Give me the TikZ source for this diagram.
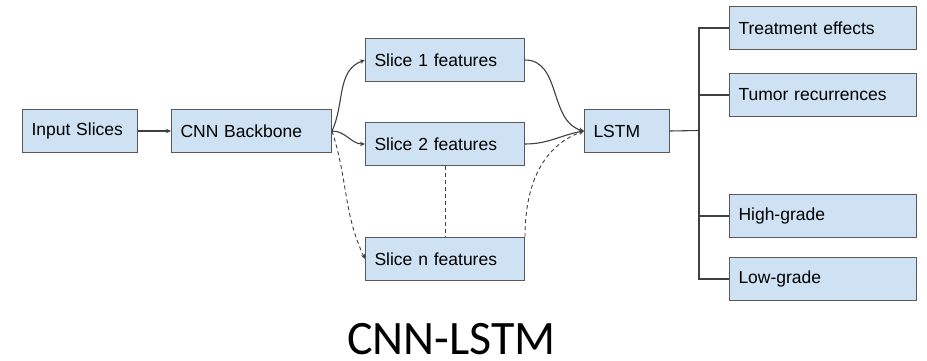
\documentclass[tikz,border=0pt]{standalone}
\usepackage{fontspec}
\setmainfont{Liberation Sans}
\newfontfamily\carlito{Carlito}
\usetikzlibrary{arrows.meta}
\definecolor{boxfill}{HTML}{CFE2F3}
\definecolor{boxline}{HTML}{595959}
\definecolor{conn}{HTML}{404040}
\tikzset{
  blockbox/.style={draw=boxline, line width=1pt, fill=boxfill, rectangle, anchor=north west,
    minimum height=43pt, inner xsep=9pt, inner ysep=0pt, text width=#1-18pt, align=left,
    font=\fontsize{17.5}{20}\selectfont},
  link/.style={draw=conn, line width=1.1pt},
  arr/.style={link, -{Stealth[length=5pt,width=4.5pt]}},
  dashlink/.style={link, line width=0.9pt, dashed, dash pattern=on 4pt off 3pt},
  dasharr/.style={arr, line width=0.9pt, dashed, dash pattern=on 4pt off 3pt}
}
\begin{document}
\begin{tikzpicture}[x=1pt,y=-1pt]
\useasboundingbox[fill=white] (0,0) rectangle (927,361);
\node[blockbox=115pt] (inp) at (22,109) {Input Slices};
\node[blockbox=160pt] (cnn) at (171,109) {CNN Backbone};
\node[blockbox=159pt] (s1) at (365,38) {Slice 1 features};
\node[blockbox=159pt] (s2) at (365,122) {Slice 2 features};
\node[blockbox=159pt] (sn) at (365,237) {Slice n features};
\node[blockbox=85pt] (lstm) at (584,109) {LSTM};
\node[blockbox=187pt] (treat) at (729,6) {Treatment effects};
\node[blockbox=187pt] (tumor) at (729,73) {Tumor recurrences};
\node[blockbox=187pt] (high) at (729,194) {High-grade};
\node[blockbox=187pt] (low) at (729,257) {Low-grade};
\node[font=\carlito\fontsize{48}{58}\selectfont, anchor=base, inner sep=0pt] (title) at (451.5,354) {CNN-LSTM};

\draw[arr] (inp.east) -- (cnn.west);
\draw[arr] (cnn.east) to[out=65,in=200] (s1.west);
\draw[arr] (cnn.east) to[out=0,in=180] (s2.west);
\draw[dasharr] (cnn.east) to[out=-72,in=115] (sn.west);
\draw[dashlink] (s2.south) -- (sn.north);
\draw[arr] (s1.east) to[out=0,in=165] (lstm.west);
\draw[arr] (s2.east) to[out=0,in=190] (lstm.west);
\draw[dasharr] (sn.north east) to[out=90,in=200] (lstm.west);

\coordinate (bus) at (699,130.5);
\draw[link] (lstm.east) -- (bus);
\draw[link] (treat.west) -| (bus);
\draw[link] (tumor.west) -| (bus);
\draw[link] (high.west) -| (bus);
\draw[link] (low.west) -| (bus);
\end{tikzpicture}
\end{document}
